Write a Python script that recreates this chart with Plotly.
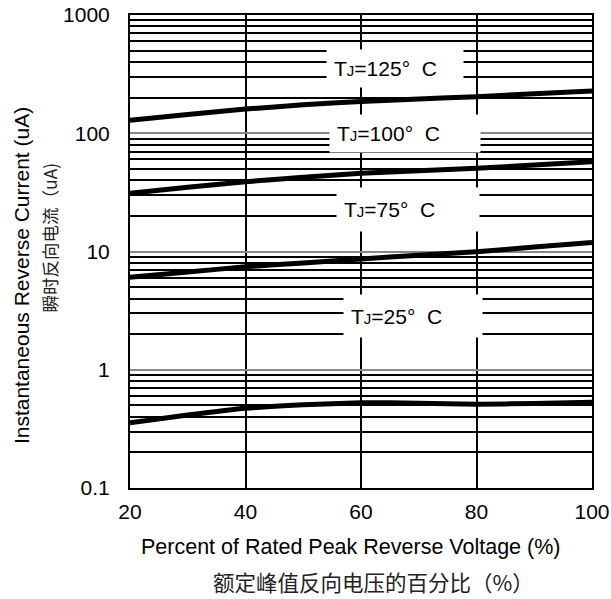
import plotly.graph_objects as go

# Data
x_pct = [20, 30, 40, 50, 60, 70, 80, 90, 100]
i_125 = [129, 144, 160, 174, 186, 195, 204, 216, 228]
i_100 = [31.1, 35.0, 38.9, 42.5, 45.8, 48.2, 50.5, 53.8, 57.5]
i_75 = [6.05, 6.7, 7.43, 8.0, 8.64, 9.3, 9.95, 10.9, 11.9]
i_25 = [0.356, 0.414, 0.472, 0.505, 0.526, 0.522, 0.512, 0.518, 0.531]

series_names = ["125", "100", "75", "25"]
series_vals = [i_125, i_100, i_75, i_25]

x_ticks = [20, 40, 60, 80, 100]
y_ticks = [0.1, 1, 10, 100, 1000]
y_tick_text = ["0.1", "1", "10", "100", "1000"]

# label box centres (data coords: x %, log10 current)
label_x = [65.9, 67.6, 68.1, 69.0]
label_logy = [2.548, 1.998, 1.355, 0.455]
label_w = [136, 150, 142, 138]
label_h = [37, 37, 43, 42]

FONT = "Liberation Sans, Arial, sans-serif"
CJK = "Noto Sans CJK SC, sans-serif"
FS = 21

fig = go.Figure()
for name, vals in zip(series_names, series_vals):
    fig.add_trace(go.Scatter(x=x_pct, y=vals, mode="lines",
                             line=dict(color="black", width=5, shape="spline", smoothing=0.4),
                             name=name, showlegend=False, hoverinfo="skip"))

PAD = 7
for name, lx, ly, w, h in zip(series_names, label_x, label_logy, label_w, label_h):
    fig.add_annotation(x=lx, y=ly, xref="x", yref="y",
                       text="T<span style='font-size:15px'>J</span>=" + name + "°  C",
                       showarrow=False, bgcolor="white", width=w - 2 * PAD, height=h - 2 * PAD,
                       borderpad=PAD, align="left",
                       font=dict(family=FONT, size=FS, color="black"))

fig.update_layout(
    width=611, height=599,
    margin=dict(l=130, r=19, t=15, b=111),
    paper_bgcolor="white", plot_bgcolor="white",
    xaxis=dict(range=[20, 100], tickvals=x_ticks, showgrid=True, gridcolor="black", gridwidth=1.8,
               showline=True, linecolor="black", linewidth=2, mirror=True, zeroline=False,
               automargin=False,
               ticks="", ticklabelstandoff=4, tickfont=dict(family=FONT, size=FS, color="black")),
    yaxis=dict(type="log", range=[-1, 3], tickvals=y_ticks, ticktext=y_tick_text,
               showgrid=True, gridcolor="#888888", gridwidth=1.8,
               minor=dict(showgrid=True, dtick="D1", gridcolor="black", gridwidth=1.8, ticks=""),
               showline=True, linecolor="black", linewidth=2, mirror=True, zeroline=False,
               automargin=False,
               ticks="", ticklabelstandoff=14,
               tickfont=dict(family=FONT, size=FS, color="black")),
)

fig.add_annotation(text="Percent of Rated Peak Reverse Voltage (%)", xref="paper", yref="paper",
                   x=0.478, y=-0.1247, yanchor="middle", showarrow=False,
                   font=dict(family=FONT, size=21.5, color="black"))
fig.add_annotation(text="额定峰值反向电压的百分比（%）", xref="paper", yref="paper",
                   x=0.528, y=-0.1987, yanchor="middle", showarrow=False,
                   font=dict(family=CJK, size=21.5, color="#222222"))
fig.add_annotation(text="Instantaneous Reverse Current (uA)", xref="paper", yref="paper",
                   x=-0.236, y=0.450, xanchor="center", textangle=-90, showarrow=False,
                   font=dict(family=FONT, size=FS, color="black"))
fig.add_annotation(text="瞬时反向电流（uA)", xref="paper", yref="paper",
                   x=-0.175, y=0.530, xanchor="center", textangle=-90, showarrow=False,
                   font=dict(family=CJK, size=17.5, color="#222222"))

fig.write_html("out.html", config={"displayModeBar": False},
               post_script="document.body.style.margin='0';document.body.style.overflow='hidden';")
